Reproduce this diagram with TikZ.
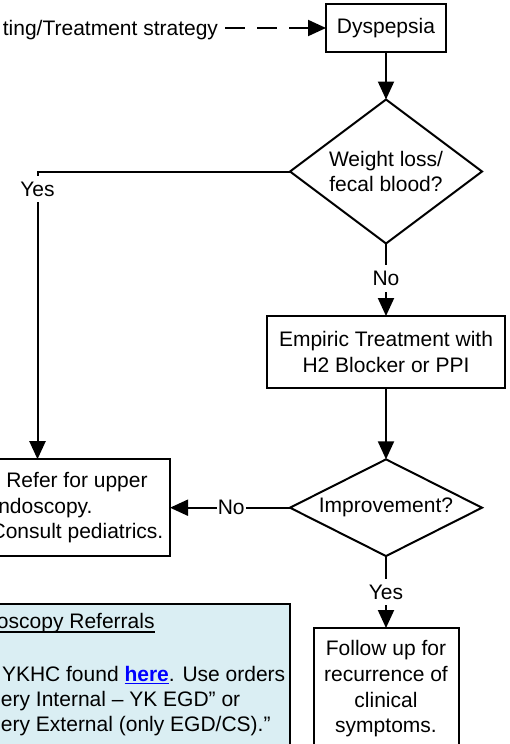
\documentclass[tikz,border=0pt]{standalone}
\usepackage{fontspec}
\setmainfont{Liberation Sans}
\usetikzlibrary{arrows.meta,shapes.geometric}
\definecolor{noteblue}{RGB}{218,238,243}
\definecolor{linkblue}{RGB}{0,0,255}
\newsavebox\ulbox
\newcommand\myul[3]{\sbox\ulbox{#3}\rlap{\rule[#1]{\wd\ulbox}{#2}}\usebox\ulbox}
\begin{document}
\begin{tikzpicture}[x=1pt,y=-1pt,
  every node/.style={font=\fontsize{21pt}{25.7pt}\selectfont, outer sep=0pt},
  box/.style={draw, line width=2pt, inner sep=0pt, align=center},
  dia/.style={draw, line width=2pt, diamond, inner sep=0pt, align=center, minimum width=192pt},
  conn/.style={line width=2pt, -{Triangle[length=18pt,width=16pt]}},
  lbl/.style={fill=white, inner xsep=1pt, inner ysep=6pt},
  txt/.style={inner sep=0pt},
]
\useasboundingbox (0,0) rectangle (510,744);
\clip (0,0) rectangle (510,744);

% nodes
\node[box, minimum width=120pt, minimum height=48pt] (dysp) at (386,28) {Dyspepsia};
\node[txt, anchor=base east] (src) at (218,35) {ting/Treatment strategy};
\node[dia, aspect=1.3333, minimum height=144pt] (d1) at (386,171.5) {Weight loss/\\fecal blood?};
\node[box, minimum width=238pt, minimum height=72pt] (emp) at (386,352) {Empiric Treatment with\\H2 Blocker or PPI};
\node[dia, aspect=2, minimum height=96.7pt] (d2) at (386,507.7) {Improvement?};
\node[box, minimum width=145pt, minimum height=122pt] (fol) at (386,689) {Follow up for\\recurrence of\\clinical\\symptoms.};
\node[box, minimum width=190pt, minimum height=97pt, align=left] (ref) at (75,507.7)
  {\hspace*{19.7pt}Refer for upper\\endoscopy.\\\hspace*{4pt}Consult pediatrics.};

% note box
\node[draw, line width=2pt, fill=noteblue, minimum width=310pt, minimum height=170pt, anchor=north east] (note) at (290,604) {};
\node[txt, anchor=base west] (nt) at (-3,628) {\myul{-4.5pt}{1.5pt}{oscopy Referrals}};
\node[txt, anchor=base west] (n1) at (2,681.7) {YKHC found \textcolor{linkblue}{\myul{-2.7pt}{1.5pt}{\textbf{here}}}. Use orders};
\node[txt, anchor=base west] (n2) at (1,706.7) {ery Internal – YK EGD” or};
\node[txt, anchor=base west] (n3) at (1,731.7) {ery External (only EGD/CS).”};

% connectors
\coordinate (dstart) at ([xshift=7pt]src.east);
\draw[line width=2pt, dash pattern=on 20pt off 12pt, -{Triangle[length=18pt,width=16pt]}] (dstart |- dysp.west) -- (dysp.west);
\draw[conn] (dysp.south) -- (d1.north);
\draw[conn] (d1.south) -- node[lbl, pos=0.48]{No} (emp.north);
\draw[conn] (emp.south) -- (d2.north);
\draw[conn] (d2.south) -- node[lbl, pos=0.5]{Yes} (fol.north);
\draw[conn] (d2.west) -- node[lbl, pos=0.49]{No} (ref.east);
\coordinate (ycorner) at (37.5,171.5);
\draw[conn] (d1.west) -- (ycorner) -- node[lbl, pos=0.061]{Yes} (ycorner |- ref.north);
\end{tikzpicture}
\end{document}
